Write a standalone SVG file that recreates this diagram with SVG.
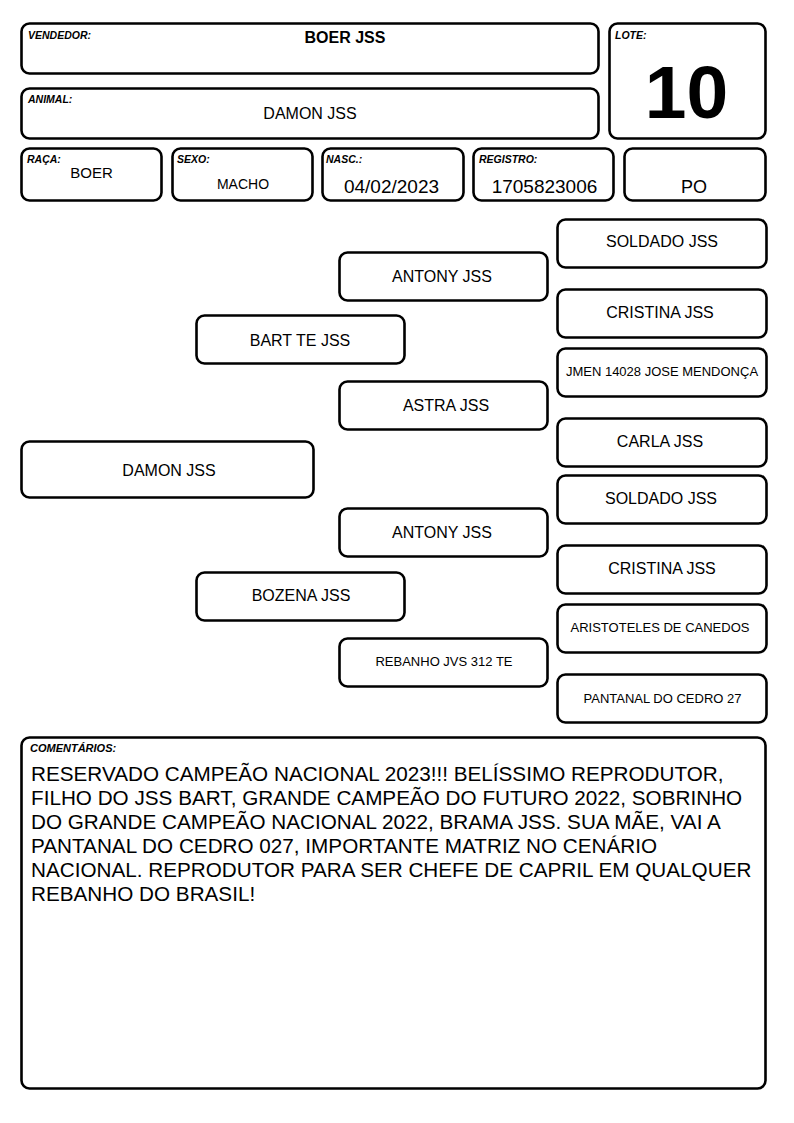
<svg xmlns="http://www.w3.org/2000/svg" width="794" height="1123" viewBox="0 0 794 1123">
<style>
.b{fill:#fff;stroke:#000;stroke-width:2.6}
.lbl{font-family:"Liberation Sans",Arial,sans-serif;font-size:10.5px;font-weight:bold;font-style:italic;fill:#000}
.t{font-family:"Liberation Sans",Arial,sans-serif;fill:#000;text-anchor:middle}
.n16{font-size:16px}
.n13{font-size:13px}
.c{font-family:"Liberation Sans",Arial,sans-serif;font-size:20.7px;fill:#000}
</style>
<rect width="794" height="1123" fill="#fff"/>
<g id="vendedor">
<rect class="b" x="21.5" y="23.5" width="577" height="50" rx="8"/>
<text class="lbl" x="28" y="39">VENDEDOR:</text>
<text class="t" x="345" y="43" style="font-size:16px;font-weight:bold">BOER JSS</text>
</g>
<g id="animal">
<rect class="b" x="21.5" y="88.5" width="577" height="50" rx="8"/>
<text class="lbl" x="28" y="103">ANIMAL:</text>
<text class="t n16" x="310" y="119">DAMON JSS</text>
</g>
<g id="lote">
<rect class="b" x="609.5" y="23.5" width="156" height="115" rx="8"/>
<text class="lbl" x="615" y="39">LOTE:</text>
<text class="t" x="686.5" y="118" style="font-size:75px;font-weight:bold">10</text>
</g>
<g id="raca">
<rect class="b" x="21.5" y="148.5" width="140" height="52" rx="8"/>
<text class="lbl" x="27" y="163">RAÇA:</text>
<text class="t" x="91.5" y="178" style="font-size:15px">BOER</text>
</g>
<g id="sexo">
<rect class="b" x="172.5" y="148.5" width="140" height="52" rx="8"/>
<text class="lbl" x="177" y="163">SEXO:</text>
<text class="t" x="243" y="189" style="font-size:14px">MACHO</text>
</g>
<g id="nasc">
<rect class="b" x="322.5" y="148.5" width="141" height="52" rx="8"/>
<text class="lbl" x="326" y="163">NASC.:</text>
<text class="t" x="391.5" y="193" style="font-size:19px">04/02/2023</text>
</g>
<g id="registro">
<rect class="b" x="473.5" y="148.5" width="140" height="52" rx="8"/>
<text class="lbl" x="479" y="163">REGISTRO:</text>
<text class="t" x="544.5" y="193" style="font-size:19px">1705823006</text>
</g>
<g id="po">
<rect class="b" x="624.5" y="148.5" width="141" height="52" rx="8"/>
<text class="t" x="694" y="193" style="font-size:18px">PO</text>
</g>
<g id="connectors"></g>
<g id="p-damon">
<rect class="b" x="21.5" y="441.5" width="292" height="56" rx="8"/>
<text class="t n16" x="169" y="476">DAMON JSS</text>
</g>
<g id="p-bart">
<rect class="b" x="196.5" y="315.5" width="208" height="48" rx="8"/>
<text class="t n16" x="300" y="346">BART TE JSS</text>
</g>
<g id="p-antony1">
<rect class="b" x="339.5" y="252.5" width="208" height="48" rx="8"/>
<text class="t n16" x="442" y="282">ANTONY JSS</text>
</g>
<g id="p-astra">
<rect class="b" x="339.5" y="381.5" width="208" height="48" rx="8"/>
<text class="t n16" x="446" y="411">ASTRA JSS</text>
</g>
<g id="p-antony2">
<rect class="b" x="339.5" y="508.5" width="208" height="48" rx="8"/>
<text class="t n16" x="442" y="538">ANTONY JSS</text>
</g>
<g id="p-bozena">
<rect class="b" x="196.5" y="572.5" width="208" height="48" rx="8"/>
<text class="t n16" x="301" y="601">BOZENA JSS</text>
</g>
<g id="p-rebanho">
<rect class="b" x="339.5" y="638.5" width="208" height="48" rx="8"/>
<text class="t n13" x="444" y="666">REBANHO JVS 312 TE</text>
</g>
<g id="p-soldado1">
<rect class="b" x="557.5" y="219.5" width="209" height="48" rx="8"/>
<text class="t n16" x="662" y="247">SOLDADO JSS</text>
</g>
<g id="p-cristina1">
<rect class="b" x="557.5" y="289.5" width="209" height="48" rx="8"/>
<text class="t n16" x="660" y="318">CRISTINA JSS</text>
</g>
<g id="p-jmen">
<rect class="b" x="557.5" y="348.5" width="209" height="48" rx="8"/>
<text class="t n13" x="662" y="376">JMEN 14028 JOSE MENDONÇA</text>
</g>
<g id="p-carla">
<rect class="b" x="557.5" y="418.5" width="209" height="48" rx="8"/>
<text class="t n16" x="660" y="447">CARLA JSS</text>
</g>
<g id="p-soldado2">
<rect class="b" x="557.5" y="475.5" width="209" height="48" rx="8"/>
<text class="t n16" x="661" y="504">SOLDADO JSS</text>
</g>
<g id="p-cristina2">
<rect class="b" x="557.5" y="545.5" width="209" height="48" rx="8"/>
<text class="t n16" x="662" y="574">CRISTINA JSS</text>
</g>
<g id="p-aristoteles">
<rect class="b" x="557.5" y="604.5" width="209" height="48" rx="8"/>
<text class="t n13" x="660" y="632">ARISTOTELES DE CANEDOS</text>
</g>
<g id="p-pantanal">
<rect class="b" x="557.5" y="674.5" width="209" height="48" rx="8"/>
<text class="t n13" x="662.5" y="703">PANTANAL DO CEDRO 27</text>
</g>
<g id="comentarios">
<rect class="b" x="21.5" y="737.5" width="744" height="351" rx="8"/>
<text class="lbl" x="30" y="752" style="font-size:11px">COMENTÁRIOS:</text>
<text class="c" x="31" y="781">RESERVADO CAMPEÃO NACIONAL 2023!!! BELÍSSIMO REPRODUTOR,</text>
<text class="c" x="31" y="805">FILHO DO JSS BART, GRANDE CAMPEÃO DO FUTURO 2022, SOBRINHO</text>
<text class="c" x="31" y="829">DO GRANDE CAMPEÃO NACIONAL 2022, BRAMA JSS. SUA MÃE, VAI A</text>
<text class="c" x="31" y="853">PANTANAL DO CEDRO 027, IMPORTANTE MATRIZ NO CENÁRIO</text>
<text class="c" x="31" y="877">NACIONAL. REPRODUTOR PARA SER CHEFE DE CAPRIL EM QUALQUER</text>
<text class="c" x="31" y="901">REBANHO DO BRASIL!</text>
</g>
</svg>
